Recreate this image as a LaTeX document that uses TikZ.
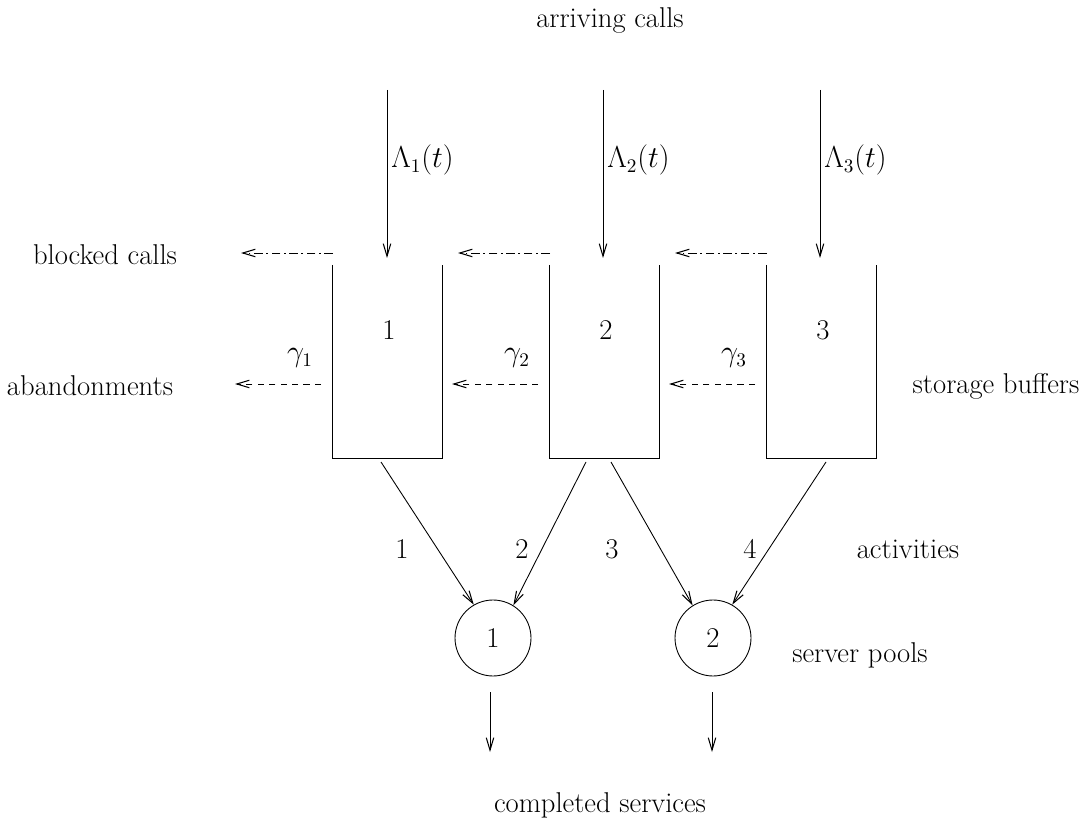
\documentclass[tikz,border=0pt]{standalone}
\usetikzlibrary{arrows.meta}
\begin{document}
\begin{tikzpicture}[x=0.02cm,y=-0.02cm,
  every node/.style={font=\fontsize{16.3}{19}\selectfont, inner sep=0pt},
  flow/.style={line width=0.5pt, -{Straight Barb[length=2.5mm,width=1.5mm,line width=0.6pt]}},
  blocked/.style={flow, dash pattern=on 5pt off 2pt on 1pt off 2pt},
  abandon/.style={flow, dash pattern=on 3.5pt off 3pt},
  buffer/.style={line width=0.55pt},
  pool/.style={draw, circle, line width=0.5pt, minimum size=1.52cm}]
\useasboundingbox (0,0) rectangle (1086,827);

% storage buffers (open at the top)
\foreach \i/\x in {1/332,2/549,3/766}{
  \draw[buffer] (\x,265) -- (\x,458) -- (\x+110,458) -- (\x+110,265);
  \coordinate (b\i) at (\x+55,458);
  \node (bl\i) at (\x+57,330) {\i};
}

% arrivals
\foreach \i/\x in {1/387,2/603,3/820}{
  \coordinate (in\i) at (\x,90);
  \coordinate (top\i) at (\x,258);
  \draw[flow] (in\i) -- (top\i);
  \node[anchor=west] (lam\i) at (\x+4,160) {$\Lambda_{\i}(t)$};
}

% blocked calls and abandonments
\foreach \i/\x in {1/333,2/550,3/767}{
  \coordinate (bs\i) at (\x,253);
  \coordinate (be\i) at (\x-92,253);
  \draw[blocked] (bs\i) -- (be\i);
  \coordinate (as\i) at (\x-12,384);
  \coordinate (ae\i) at (\x-98,384);
  \draw[abandon] (as\i) -- (ae\i);
  \node (g\i) at (\x-33,358) {$\gamma_{\i}$};
}

% server pools
\node[pool] (s1) at (493,638) {1};
\node[pool] (s2) at (713,638) {2};

% activities
\coordinate (a1s) at (381,462);
\coordinate (a2s) at (586,462);
\coordinate (a3s) at (611,462);
\coordinate (a4s) at (826,462);
\draw[flow] (a1s) -- (s1.120);
\draw[flow] (a2s) -- (s1.58);
\draw[flow] (a3s) -- (s2.122);
\draw[flow] (a4s) -- (s2.60);
\node (l1) at (402,549) {1};
\node (l2) at (522,549) {2};
\node (l3) at (612,549) {3};
\node (l4) at (750,549) {4};

% completed services
\coordinate (o1) at (490,692);
\coordinate (o1e) at (490,752);
\coordinate (o2) at (712,692);
\coordinate (o2e) at (712,752);
\draw[flow] (o1) -- (o1e);
\draw[flow] (o2) -- (o2e);

% captions
\node (arr) at (610,20) {arriving calls};
\node (blk) at (105,255) {blocked calls};
\node (abd) at (90,386) {abandonments};
\node (stb) at (996,386) {storage buffers};
\node (act) at (908,549) {activities};
\node (spl) at (860,655) {server pools};
\node (cmp) at (600,805) {completed services};
\end{tikzpicture}
\end{document}
